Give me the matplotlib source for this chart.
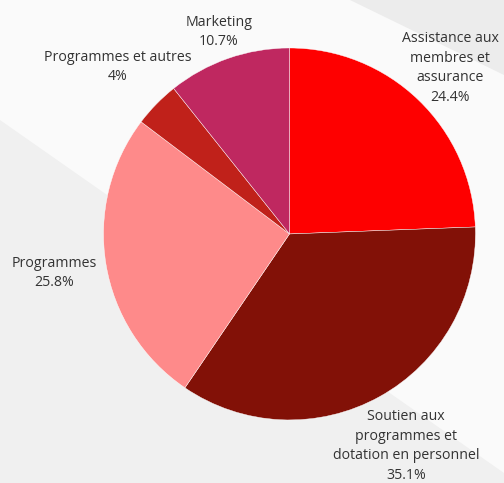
import matplotlib.pyplot as plt
from matplotlib.patches import Polygon

# slices, clockwise from 12 o'clock
categories = ["Assistance aux\nmembres et\nassurance",
              "Soutien aux\nprogrammes et\ndotation en personnel",
              "Programmes",
              "Programmes et autres",
              "Marketing"]
values = [24.4, 35.1, 25.8, 4, 10.7]
colors = ["#fe0000", "#821107", "#fe8a8a", "#c0211a", "#bf2860"]

# label anchor points (data units, pie radius = 1)
label_x = [0.863, 0.626, -1.266, -0.922, -0.379]
label_y = [0.892, -1.14, -0.21, 0.898, 1.086]

plt.rcParams['font.family'] = ['Open Sans', 'DejaVu Sans']

fig = plt.figure(figsize=(5.04, 4.83), dpi=100)
fig.patch.set_facecolor("#fafafa")

# light textured background bands
fig.patches.append(Polygon([(0.0, 0.752), (0.0, 0.0), (1.0, 0.0), (1.0, 0.02)],
                           closed=True, transform=fig.transFigure,
                           facecolor="#f0f0f0", edgecolor="none", zorder=-2))
fig.patches.append(Polygon([(0.694, 1.0), (1.0, 1.0), (1.0, 0.845)],
                           closed=True, transform=fig.transFigure,
                           facecolor="#ececec", edgecolor="none", zorder=-2))

ax = fig.add_axes([0, 0, 1, 1])
ax.set_facecolor("none")
ax.pie(values, colors=colors, startangle=90, counterclock=False, radius=1,
       wedgeprops=dict(edgecolor="#ffffff", linewidth=0.3))
ax.set_xlim(-1.556, 1.153)
ax.set_ylim(-1.339, 1.258)
ax.set_aspect("equal")
ax.axis("off")

for name, v, x, y in zip(categories, values, label_x, label_y):
    ax.text(x, y, f"{name}\n{v:g}%", ha="center", va="center",
            fontsize=10.2, color="#333333", linespacing=1.4)

fig.savefig("out.png", dpi=100, facecolor=fig.get_facecolor())
